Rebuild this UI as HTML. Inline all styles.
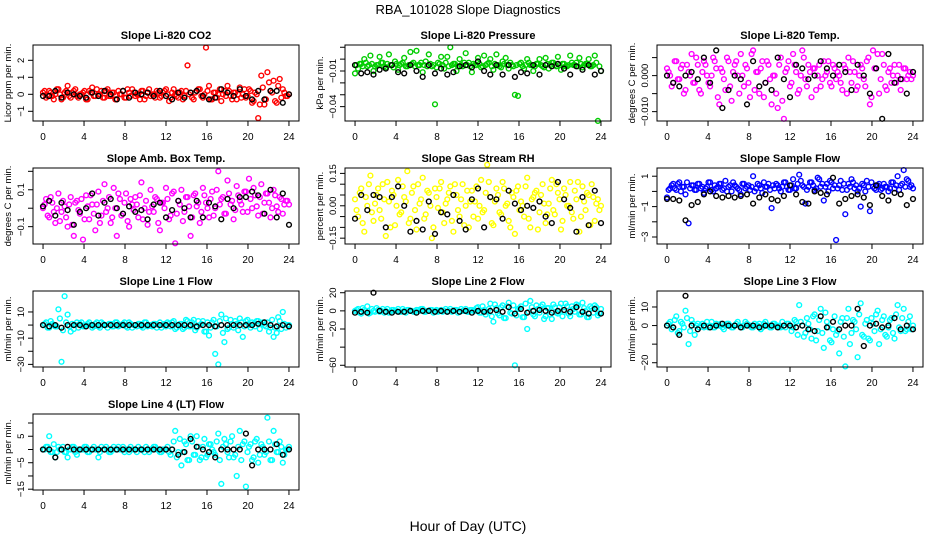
<!DOCTYPE html>
<html><head><meta charset="utf-8"><style>
html,body{margin:0;padding:0;background:#fff;}
svg{display:block;font-family:"Liberation Sans",sans-serif;}
</style></head><body>
<svg id="chart" width="936" height="540" viewBox="0 0 936 540" xmlns="http://www.w3.org/2000/svg">
<text x="468" y="14" text-anchor="middle" font-size="13">RBA_101028  Slope Diagnostics</text>
<text x="468" y="531" text-anchor="middle" font-size="14">Hour of Day (UTC)</text>
</svg>
<script>
const HOURS_C=[0,0.3,0.6,0.9,1.2,1.5,1.8,2.1,2.4,2.7,3,3.3,3.6,3.9,4.2,4.5,4.8,5.1,5.4,5.7,6,6.3,6.6,6.9,7.2,7.5,7.8,8.1,8.4,8.7,9,9.3,9.6,9.9,10.2,10.5,10.8,11.1,11.4,11.7,12,12.3,12.6,12.9,13.2,13.5,13.8,14.1,14.4,14.7,15,15.3,15.6,15.9,16.2,16.5,16.8,17.1,17.4,17.7,18,18.3,18.6,18.9,19.2,19.5,19.8,20.1,20.4,20.7,21,21.3,21.6,21.9,22.2,22.5,22.8,23.1,23.4,23.7,24];
const HOURS_C2=[0.15,0.45,0.75,1.05,1.35,1.65,1.95,2.25,2.55,2.85,3.15,3.45,3.75,4.05,4.35,4.65,4.95,5.25,5.55,5.85,6.15,6.45,6.75,7.05,7.35,7.65,7.95,8.25,8.55,8.85,9.15,9.45,9.75,10.05,10.35,10.65,10.95,11.25,11.55,11.85,12.15,12.45,12.75,13.05,13.35,13.65,13.95,14.25,14.55,14.85,15.15,15.45,15.75,16.05,16.35,16.65,16.95,17.25,17.55,17.85,18.15,18.45,18.75,19.05,19.35,19.65,19.95,20.25,20.55,20.85,21.15,21.45,21.75,22.05,22.35,22.65,22.95,23.25,23.55,23.85];
const HOURS_K=[0,0.6,1.2,1.8,2.4,3,3.6,4.2,4.8,5.4,6,6.6,7.2,7.8,8.4,9,9.6,10.2,10.8,11.4,12,12.6,13.2,13.8,14.4,15,15.6,16.2,16.8,17.4,18,18.6,19.2,19.8,20.4,21,21.6,22.2,22.8,23.4,24];
const X_TICKS=[0,4,8,12,16,20,24];

const co2C=[0.1,-0.2,0.2,-0.1,0.0,0.3,-0.3,0.1,0.5,-0.2,0.2,-0.1,0.0,0.1,-0.3,0.2,0.4,-0.1,0.0,0.2,-0.2,0.3,-0.1,0.1,-0.3,0.0,0.2,-0.2,0.1,0.3,-0.1,0.0,0.2,-0.3,0.1,-0.1,0.0,0.2,-0.2,0.1,0.3,-0.4,0.1,0.0,-0.2,0.2,-0.1,1.7,0.1,-0.3,0.2,0.3,-0.2,2.75,0.5,-0.3,0.1,0.0,-0.4,0.2,0.5,-0.1,0.1,-0.3,0.4,0.0,-0.2,0.3,-0.5,0.1,-1.4,1.1,-0.6,1.3,0.2,0.8,-0.5,0.9,0.3,-0.1,0.0];
const co2C2=[0.2,-0.1,0.1,-0.3,0.3,0.0,-0.2,0.2,-0.1,0.1,0.3,-0.2,0.0,0.2,-0.3,0.1,-0.1,0.3,0.0,-0.2,0.2,-0.1,0.1,-0.3,0.2,0.0,-0.2,0.3,-0.1,0.1,0.0,-0.3,0.2,-0.1,0.3,0.0,-0.2,0.1,-0.1,0.2,0.0,-0.2,0.3,-0.1,0.1,-0.3,0.2,0.0,-0.2,0.1,0.3,-0.1,0.0,0.2,-0.3,0.1,-0.2,0.3,0.0,-0.1,0.2,-0.3,0.1,0.0,-0.2,0.3,-0.1,0.2,-0.4,0.0,-0.6,0.4,-0.3,0.7,0.1,-0.4,0.5,-0.2,0.1,-0.1];
const co2K=[-0.1,-0.1,0.2,-0.2,0.1,0.0,-0.1,-0.2,0.1,-0.1,0.2,0.0,-0.3,0.2,-0.2,0.1,0.0,0.1,-0.1,0.2,-0.1,-0.3,0.1,-0.2,0.1,0.2,-0.1,-0.3,-0.2,0.3,0.1,-0.1,0.3,-0.1,-0.3,0.2,-0.3,0.2,0.2,-0.5,0.0];
const presC=[-0.012,-0.008,-0.004,0.000,-0.006,0.003,-0.010,-0.005,0.002,-0.003,-0.007,0.004,-0.005,-0.002,-0.009,-0.004,0.001,-0.006,0.006,-0.003,0.007,-0.005,-0.011,-0.002,0.004,-0.006,-0.038,-0.003,0.002,-0.008,0.002,0.010,-0.004,-0.010,0.000,-0.006,0.005,-0.003,-0.011,-0.005,0.001,-0.007,0.003,-0.004,0.000,-0.009,0.004,-0.006,-0.002,0.001,-0.008,-0.005,-0.030,-0.031,-0.003,-0.008,0.000,-0.005,-0.010,-0.004,0.000,-0.006,0.001,-0.008,-0.003,-0.005,0.002,-0.009,-0.004,-0.006,0.003,-0.005,-0.003,0.001,-0.007,-0.004,0.000,-0.006,0.003,-0.052,-0.010];
const presC2=[-0.005,-0.004,-0.006,-0.003,-0.005,-0.004,-0.006,-0.005,-0.003,-0.006,-0.004,-0.005,-0.007,-0.004,-0.005,-0.003,-0.006,-0.005,-0.004,-0.006,-0.005,-0.003,-0.005,-0.006,-0.004,-0.005,-0.007,-0.004,-0.005,-0.003,-0.006,-0.005,-0.004,-0.006,-0.005,-0.003,-0.005,-0.006,-0.004,-0.005,-0.004,-0.006,-0.005,-0.003,-0.006,-0.004,-0.005,-0.007,-0.004,-0.005,-0.003,-0.006,-0.005,-0.004,-0.006,-0.005,-0.003,-0.005,-0.006,-0.004,-0.005,-0.007,-0.004,-0.005,-0.003,-0.006,-0.005,-0.004,-0.006,-0.005,-0.003,-0.005,-0.006,-0.004,-0.005,-0.004,-0.006,-0.005,-0.003,-0.006];
const presK=[-0.005,-0.012,-0.011,-0.013,-0.009,-0.008,-0.005,-0.011,-0.012,-0.005,-0.010,-0.015,-0.005,-0.012,-0.008,-0.013,-0.011,-0.006,-0.005,-0.007,-0.002,-0.010,-0.013,-0.005,-0.013,-0.005,-0.015,-0.011,-0.012,-0.005,-0.013,-0.005,-0.006,-0.004,-0.008,-0.013,-0.006,-0.009,-0.005,-0.013,-0.010];
const tempC=[0.002,0.000,-0.002,0.004,-0.001,0.003,-0.004,0.001,0.006,-0.002,0.003,-0.005,0.004,0.000,-0.003,0.005,0.002,-0.008,0.001,-0.004,0.004,-0.007,0.003,0.000,0.006,-0.003,0.002,-0.006,0.007,0.001,-0.005,0.004,-0.002,0.003,-0.008,0.000,-0.009,0.005,-0.012,0.002,-0.003,0.006,0.001,-0.004,0.007,-0.001,0.003,-0.006,0.002,0.000,-0.003,0.004,0.001,-0.002,0.003,-0.001,0.000,-0.004,0.002,0.005,-0.002,0.001,-0.003,0.003,-0.001,0.004,-0.008,0.007,0.002,-0.005,0.006,-0.003,0.001,-0.002,0.003,0.000,-0.004,0.002,-0.001,0.001,0.000];
const tempC2=[0.001,-0.003,0.004,-0.001,0.002,-0.005,0.003,0.000,-0.002,0.005,-0.004,0.001,0.003,-0.002,0.000,0.004,-0.006,0.002,-0.001,0.005,-0.003,0.001,0.004,-0.005,0.000,0.003,-0.002,0.006,-0.004,0.001,0.002,-0.006,0.004,-0.001,0.000,-0.005,0.003,-0.007,0.001,0.004,-0.002,0.003,-0.005,0.000,0.005,-0.003,0.001,0.002,-0.004,0.003,-0.001,0.000,0.004,-0.003,0.002,0.001,-0.002,0.003,-0.005,0.001,0.004,-0.004,0.000,0.002,-0.003,0.005,-0.006,0.002,0.006,-0.001,0.003,-0.004,0.002,0.000,-0.002,0.003,-0.001,0.002,0.000,-0.001];
const tempK=[0.0,-0.002,-0.003,0.0,0.001,-0.001,0.005,-0.002,0.007,-0.009,-0.004,0.0,-0.001,-0.008,0.004,-0.003,-0.002,-0.004,0.005,-0.001,-0.006,0.003,0.002,-0.001,0.0,0.004,0.002,0.0,0.003,0.001,-0.004,0.003,0.0,-0.005,0.002,-0.012,0.006,-0.002,-0.001,-0.005,0.001];
const ambC=[0.0,0.05,-0.05,0.03,-0.08,0.08,-0.02,0.01,-0.1,0.06,-0.15,0.04,-0.03,-0.17,0.07,-0.06,0.02,-0.12,0.09,-0.04,0.13,0.0,-0.08,0.11,-0.15,0.05,-0.03,0.08,-0.1,0.02,0.06,-0.05,0.14,0.0,-0.09,0.1,-0.02,0.05,-0.12,0.03,0.11,-0.06,0.08,-0.19,0.04,0.1,-0.02,0.06,-0.15,0.07,0.01,-0.08,0.11,0.03,-0.05,0.09,0.0,0.2,0.05,-0.03,0.15,0.02,-0.06,0.12,0.04,-0.02,0.09,0.16,0.0,0.07,-0.04,0.13,0.03,0.08,-0.05,0.1,0.01,0.06,-0.03,0.04,0.02];
const ambC2=[0.02,-0.04,0.06,-0.02,0.0,-0.07,0.04,-0.05,0.02,-0.09,0.03,-0.01,0.05,-0.06,0.01,0.07,-0.03,0.02,-0.08,0.04,-0.02,0.06,-0.05,0.0,0.08,-0.04,0.03,-0.07,0.05,-0.01,0.02,0.07,-0.06,0.04,-0.02,0.01,0.06,-0.08,0.03,0.0,0.05,-0.04,0.09,-0.03,0.02,-0.07,0.06,0.01,-0.05,0.08,0.03,-0.02,0.07,0.0,0.05,-0.04,0.1,0.02,0.06,-0.03,0.08,0.04,-0.01,0.07,0.02,0.09,-0.02,0.05,0.11,0.01,0.06,-0.03,0.08,0.03,0.0,0.07,-0.02,0.05,0.02,0.04];
const ambK=[0.01,0.04,-0.04,0.03,-0.01,-0.09,-0.02,0.0,0.08,-0.04,0.03,0.05,0.0,-0.03,0.01,-0.02,-0.01,-0.06,0.02,0.03,-0.05,-0.01,0.04,0.0,-0.05,0.04,-0.05,0.03,0.01,-0.06,0.05,0.0,0.06,0.06,0.09,0.07,-0.03,0.1,-0.05,0.08,-0.09];
const rhC=[0.03,-0.05,0.08,-0.12,0.0,0.14,-0.07,0.05,-0.02,0.1,-0.14,0.02,0.07,-0.09,0.12,-0.03,0.04,0.16,-0.06,0.09,-0.11,0.01,0.13,-0.04,0.06,-0.15,0.08,-0.01,0.11,-0.08,0.03,0.09,-0.12,0.05,-0.05,0.1,0.0,-0.1,0.07,0.02,-0.06,0.12,-0.02,0.19,0.04,-0.09,0.08,-0.03,0.11,0.0,-0.07,0.06,-0.13,0.09,0.02,-0.05,0.13,-0.1,0.04,0.07,-0.03,0.1,-0.08,0.01,0.12,-0.04,0.06,-0.11,0.08,0.0,0.11,-0.06,0.03,-0.12,0.09,-0.02,0.05,0.1,-0.07,0.03,0.0];
const rhC2=[-0.02,0.06,-0.08,0.04,0.1,-0.03,0.01,0.08,-0.06,0.03,0.11,-0.1,0.05,0.0,-0.04,0.09,0.02,-0.08,0.06,-0.02,0.1,0.03,-0.06,0.07,0.0,-0.1,0.04,0.08,-0.03,0.01,0.06,-0.07,0.1,-0.02,0.03,-0.09,0.07,0.02,-0.05,0.09,0.0,-0.03,0.06,0.11,-0.08,0.02,0.05,-0.04,0.08,0.01,-0.1,0.04,0.07,-0.02,0.0,0.09,-0.06,0.03,0.06,-0.11,0.05,0.01,-0.04,0.08,-0.02,0.1,0.03,-0.07,0.05,0.0,-0.03,0.07,0.11,-0.05,0.02,0.06,-0.09,0.04,0.01,-0.02];
const rhK=[-0.06,0.05,-0.02,0.05,0.04,-0.1,0.04,0.09,0.0,-0.12,-0.07,-0.11,0.02,-0.13,-0.03,-0.04,0.05,-0.07,-0.11,0.03,0.08,-0.1,0.04,0.03,-0.06,0.07,0.01,-0.02,0.0,-0.01,0.02,-0.05,-0.08,0.11,0.03,-0.01,-0.12,0.04,-0.09,0.07,-0.08];
const flowC=[-0.4,0.2,0.5,0.1,0.6,0.3,-0.2,-2.1,0.4,0.1,0.5,0.2,-0.1,0.3,0.6,0.0,0.2,0.5,0.1,0.7,0.3,0.0,0.4,0.2,-0.2,0.5,0.3,0.1,1.0,0.2,0.4,-0.1,0.3,0.5,-1.1,0.2,0.4,0.0,0.6,0.3,0.1,0.8,0.2,1.1,0.4,-0.8,0.3,0.6,0.1,0.9,0.3,-0.6,0.5,0.7,0.2,-3.2,0.4,0.1,-1.5,0.5,0.8,0.2,0.0,-1.0,0.4,0.7,-1.3,0.3,0.1,0.5,0.2,0.3,0.0,0.6,0.2,1.0,0.4,1.4,0.8,0.3,0.2];
const flowC2=[0.1,0.4,0.2,0.5,0.0,0.3,0.6,0.2,0.4,0.1,0.5,0.3,0.2,0.6,0.1,0.4,0.3,0.5,0.2,0.0,0.4,0.6,0.3,0.1,0.5,0.2,0.4,0.3,0.0,0.5,0.2,0.6,0.3,0.1,0.4,0.5,0.2,0.3,0.6,0.1,0.4,0.2,0.5,0.7,0.3,0.1,0.6,0.4,0.2,0.8,0.5,0.3,0.0,0.6,0.4,0.2,0.7,0.5,0.1,0.3,0.6,0.4,0.2,0.5,0.0,0.3,0.6,0.2,0.4,0.1,0.5,0.3,0.2,0.6,0.4,0.1,0.5,0.3,0.7,0.4];
const flowK=[-0.5,-0.5,-0.6,-1.9,-0.9,-0.7,-0.2,0.0,-0.3,-0.4,-0.3,-0.4,-0.3,-0.2,-0.8,-0.4,-0.2,-0.5,-0.6,-0.3,0.4,-0.2,-0.7,-0.8,0.0,-0.1,-0.2,0.9,-0.8,-0.5,-0.3,-0.2,-0.4,-0.9,0.4,-0.3,-0.6,-0.1,-0.2,-0.9,-0.5];
const line1C=[0,2,-2,1,-1,12,-28,22,8,-5,-3,2,1,-1,0,2,-2,1,-1,2,0,-2,1,-1,2,0,1,-1,2,-2,0,1,-1,2,-1,0,1,-2,2,0,-1,1,2,-3,0,1,-2,3,-1,4,-2,0,3,-5,-8,2,-22,-30,8,-13,-3,4,-2,1,5,-9,3,0,2,-1,3,1,0,2,-2,-9,-6,3,10,-2,0];
const line1C2=[1,-2,3,0,-1,5,-4,2,-1,1,0,-2,2,-1,1,0,-1,2,-2,1,0,1,-1,2,-1,0,2,-2,1,0,-1,1,-2,2,0,-1,1,0,-2,1,2,-1,3,-2,1,-3,4,-1,2,-4,3,1,-5,2,-2,4,-1,3,-6,5,-2,1,3,-4,2,-1,4,-2,1,3,-3,2,-1,-5,4,-2,6,-3,1,0];
const line1K=[0,-1,0,-2,0,0,0,-1,0,0,0,0,0,0,0,0,0,0,0,0,0,0,0,0,0,-1,0,0,-1,0,0,0,0,0,0,1,2,0,-1,0,-1];
const line2C=[0,2,-3,1,5,-2,0,3,-1,2,0,-2,1,0,2,-1,0,1,0,-1,1,0,2,-1,0,1,0,-1,1,0,-1,2,0,1,-1,0,2,-1,1,0,4,-2,1,-1,8,-12,3,-5,6,-8,9,-3,-60,2,5,-7,-20,11,-4,6,-2,7,-6,3,-9,4,-3,8,-1,5,-6,2,7,-4,9,0,-7,3,6,-5,2];
const line2C2=[1,-2,3,0,-3,2,-1,1,0,-2,2,-1,1,0,-1,2,-2,1,0,-1,1,2,-1,0,1,-2,1,0,-1,2,0,-1,1,-2,2,0,-1,1,0,3,-2,5,-4,2,-6,7,-3,4,-8,5,-2,6,-5,3,-7,8,-1,4,-6,2,5,-9,3,-4,7,-2,4,-6,8,-3,5,-1,6,-4,3,-7,5,-2,4,-3];
const line2K=[-2,-1,-2,20,0,-1,-2,-1,-1,0,-2,0,0,-1,0,-1,0,-1,0,-2,0,-1,0,1,-1,4,-3,2,-2,0,1,0,-2,0,1,-1,4,-1,-3,2,-3];
const line3C=[0,2,-1,5,-3,1,8,-10,3,-5,1,0,-1,2,0,-1,1,0,-1,0,1,-1,0,2,-1,0,1,0,-1,0,1,-1,2,0,-1,1,0,-1,0,1,0,-1,2,11,0,-4,1,-7,6,-3,9,-12,2,-8,-2,-5,-15,4,-22,9,-4,2,-17,12,-6,3,-8,1,6,-10,3,-5,-1,4,-7,11,-3,9,-2,5,0];
const line3C2=[1,-2,3,-4,2,-1,4,-3,1,0,-1,1,0,-1,2,-1,0,1,-2,1,0,-1,1,0,-1,2,0,-1,1,0,-2,1,0,-1,1,0,-1,2,-1,1,-3,3,-5,2,-6,4,-2,5,-8,3,-4,7,-1,-9,5,-3,2,-6,4,-10,3,-2,6,-5,1,-7,4,-3,8,-2,5,-6,3,-4,6,-1,4,-3,2,-2];
const line3K=[0,-1,-5,16,0,-2,0,-1,0,1,0,0,-1,0,0,-1,0,0,-1,0,0,-1,0,-2,-3,5,-1,2,-2,0,0,9,-11,0,1,-1,0,4,-2,0,-2];
const line4C=[0,1,5,-1,-3,1,0,-1,-3,0,1,-2,0,0,1,-1,0,0,-3,1,0,0,-1,1,0,0,1,0,-1,0,0,1,0,-1,0,0,1,0,-1,0,0,-1,0,7,-1,-6,3,-4,5,-2,5,-4,1,-3,2,0,-2,6,-13,4,-1,3,-3,-10,7,2,-14,1,-4,3,-5,2,-2,12,-4,7,-1,3,-5,0,1];
const line4C2=[0,1,-1,2,-1,0,1,-1,0,1,-1,0,0,1,-1,0,1,0,-1,0,1,-1,0,0,1,0,-1,0,1,0,-1,0,0,1,-1,0,1,0,-1,0,1,-2,3,-3,4,-1,2,-4,3,-2,1,-3,4,-2,2,-1,3,-4,1,2,-3,5,-2,1,-4,3,-1,2,-3,4,-2,1,-1,3,-4,2,-1,1,-2,0];
const line4K=[0,0,-3,0,1,0,0,0,0,0,0,0,0,0,0,0,0,0,0,0,0,0,-2,-1,4,1,0,-1,-3,0,0,0,0,6,-6,0,0,0,2,-2,0];

const panels=[
 {name:'co2',title:'Slope Li-820 CO2',ylab:'Licor ppm per min.',col:0,row:0,ymin:-1.57,ymax:2.9,ticks:[-1,0,1,2],labels:['-1','0','1','2'],color:'#ff0000',c:co2C,c2:co2C2,k:co2K},
 {name:'pressure',title:'Slope Li-820 Pressure',ylab:'kPa per min.',col:1,row:0,ymin:-0.0521,ymax:0.0119,ticks:[-0.04,-0.03,-0.02,-0.01,0,0.01],labels:['-0.04','','','-0.01','',''],color:'#00cd00',c:presC,c2:presC2,k:presK},
 {name:'li820-temp',title:'Slope Li-820 Temp.',ylab:'degrees C per min.',col:2,row:0,ymin:-0.0126,ymax:0.0085,ticks:[-0.01,-0.005,0,0.005],labels:['-0.010','','0.000',''],color:'#ff00ff',c:tempC,c2:tempC2,k:tempK},
 {name:'amb-box-temp',title:'Slope Amb. Box Temp.',ylab:'degrees C per min.',col:0,row:1,ymin:-0.194,ymax:0.218,ticks:[-0.1,0,0.1,0.2],labels:['-0.1','','0.1',''],color:'#ff00ff',c:ambC,c2:ambC2,k:ambK},
 {name:'gas-stream-rh',title:'Slope Gas Stream RH',ylab:'percent per min.',col:1,row:1,ymin:-0.177,ymax:0.175,ticks:[-0.15,-0.1,-0.05,0,0.05,0.1,0.15],labels:['-0.15','','','0.00','','','0.15'],color:'#ffff00',c:rhC,c2:rhC2,k:rhK},
 {name:'sample-flow',title:'Slope Sample Flow',ylab:'ml/min per min.',col:2,row:1,ymin:-3.46,ymax:1.54,ticks:[-3,-2,-1,0,1],labels:['-3','','-1','','1'],color:'#0000ff',c:flowC,c2:flowC2,k:flowK},
 {name:'line1-flow',title:'Slope Line 1 Flow',ylab:'ml/min per min.',col:0,row:2,ymin:-32,ymax:26,ticks:[-30,-20,-10,0,10],labels:['-30','','-10','','10'],color:'#00ffff',c:line1C,c2:line1C2,k:line1K},
 {name:'line2-flow',title:'Slope Line 2 Flow',ylab:'ml/min per min.',col:1,row:2,ymin:-61.9,ymax:21.9,ticks:[-60,-40,-20,0,20],labels:['-60','','-20','0','20'],color:'#00ffff',c:line2C,c2:line2C2,k:line2K},
 {name:'line3-flow',title:'Slope Line 3 Flow',ylab:'ml/min per min.',col:2,row:2,ymin:-22.3,ymax:18.6,ticks:[-20,-10,0,10],labels:['-20','','0','10'],color:'#00ffff',c:line3C,c2:line3C2,k:line3K},
 {name:'line4-flow',title:'Slope Line 4 (LT) Flow',ylab:'ml/min per min.',col:0,row:3,ymin:-15.3,ymax:13.4,ticks:[-15,-10,-5,0,5,10],labels:['-15','','-5','','5',''],color:'#00ffff',c:line4C,c2:line4C2,k:line4K}
];

const NS='http://www.w3.org/2000/svg';
const svg=document.getElementById('chart');
function mk(tag,attrs,parent){const e=document.createElementNS(NS,tag);for(const a in attrs)e.setAttribute(a,attrs[a]);parent.appendChild(e);return e;}

panels.forEach(p=>{
  const L=33+312*p.col, W=266, T=45+123*p.row, H=76;
  const xs=h=>L+(h+0.98)/25.96*W;
  const ys=v=>T+H-(v-p.ymin)/(p.ymax-p.ymin)*H;
  const g=mk('g',{},svg);
  
  
  const t=mk('text',{x:L+W/2,y:T-6,'text-anchor':'middle','font-size':'11','font-weight':'bold'},g);
  
  
  t.textContent=p.title;
  const yl=mk('text',{x:0,y:0,'text-anchor':'middle','font-size':'9.5',transform:`translate(${L-22},${T+H/2}) rotate(-90)`},g);
  
  
  yl.textContent=p.ylab;
  const sc=mk('g',{fill:'none',stroke:p.color,'stroke-width':'1.4'},g);
  
  
  p.c.forEach((v,i)=>{if(HOURS_C[i]===undefined)return;
    const c=mk('circle',{cx:xs(HOURS_C[i]).toFixed(1),cy:ys(v).toFixed(1),r:'2.4'},sc);
    
    });
  p.c2.forEach((v,i)=>{if(HOURS_C2[i]===undefined)return;
    const c=mk('circle',{cx:xs(HOURS_C2[i]).toFixed(1),cy:ys(v).toFixed(1),r:'2.4'},sc);
    
    });
  const sk=mk('g',{fill:'none',stroke:'#000','stroke-width':'1.4'},g);
  
  
  p.k.forEach((v,i)=>{if(HOURS_K[i]===undefined)return;
    const c=mk('circle',{cx:xs(HOURS_K[i]).toFixed(1),cy:ys(v).toFixed(1),r:'2.4'},sk);
    
    });
  const box=mk('rect',{x:L,y:T,width:W,height:H,fill:'none',stroke:'#000','stroke-width':'1'},g);
  
  
  const xa=mk('g',{stroke:'#000','stroke-width':'1'},g);
  
  
  mk('line',{x1:xs(X_TICKS[0]),x2:xs(X_TICKS[X_TICKS.length-1]),y1:T+H,y2:T+H},xa);
  X_TICKS.forEach(h=>{
    mk('line',{x1:xs(h),x2:xs(h),y1:T+H,y2:T+H+5},xa);
    const tl=mk('text',{x:xs(h),y:T+H+19,'text-anchor':'middle','font-size':'10',stroke:'none',fill:'#000'},xa);
    
    
    tl.textContent=h;
  });
  const ya=mk('g',{stroke:'#000','stroke-width':'1'},g);
  
  
  mk('line',{x1:L,x2:L,y1:ys(p.ticks[0]),y2:ys(p.ticks[p.ticks.length-1])},ya);
  p.ticks.forEach((v,i)=>{
    mk('line',{x1:L-5,x2:L,y1:ys(v),y2:ys(v)},ya);
    if(p.labels[i]){
      const tl=mk('text',{x:0,y:0,'text-anchor':'middle','font-size':'9.5',stroke:'none',fill:'#000',transform:`translate(${L-9},${ys(v).toFixed(1)}) rotate(-90)`},ya);
      
      
      tl.textContent=p.labels[i].replace('-','\u2212');
    }
  });
});
</script>
</body></html>
